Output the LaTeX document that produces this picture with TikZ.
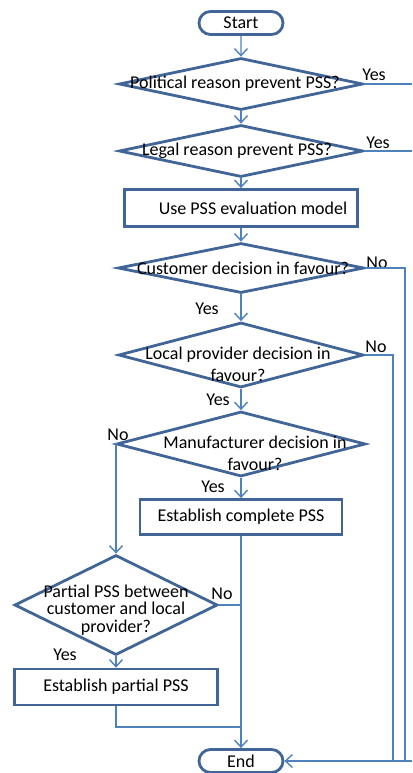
\documentclass[tikz,border=0pt]{standalone}
\usepackage{fontspec}
\setmainfont{Carlito}
\usetikzlibrary{shapes.geometric,shapes.misc,arrows.meta}
\definecolor{shapeblue}{RGB}{65,101,150}
\definecolor{lineblue}{RGB}{79,129,189}
\tikzset{
  terminal/.style={rounded rectangle,draw=shapeblue,line width=2.8pt,fill=white,minimum width=84pt,minimum height=23pt,inner sep=0pt},
  decision/.style 2 args={diamond,draw=shapeblue,line width=2.8pt,minimum width=#1,minimum height=#2,inner sep=0pt},
  process/.style 2 args={rectangle,draw=shapeblue,line width=2.8pt,minimum width=#1,minimum height=#2,inner sep=0pt},
  tag/.style={inner sep=0pt},
  wire/.style={draw=lineblue,line width=1.4pt},
  flow/.style={wire,-{Straight Barb[length=7pt,width=13pt,line width=1.4pt]}},
}
\begin{document}
\begin{tikzpicture}[x=1pt,y=-1pt,font=\fontsize{18}{22}\selectfont]
\useasboundingbox (0,0) rectangle (412,773);
\node[terminal] (start) at (241,23) {Start};
\node[decision={244pt}{52pt},label={[xshift=-6pt]center:Political reason prevent PSS?}] (political) at (241,84) {};
\node[decision={244pt}{52pt},label={[xshift=-4pt]center:Legal reason prevent PSS?}] (legal) at (241,151) {};
\node[process={233pt}{37pt}] (evaluate) at (241,208) {\hspace*{24pt}Use PSS evaluation model};
\node[decision={246pt}{50pt},label={[xshift=2pt]center:Customer decision in favour?}] (customer) at (241,268) {};
\node[decision={245pt}{65pt},label={[align=center,yshift=-9pt,xshift=-3pt]center:{Local provider decision in\\favour?}}] (provider) at (241,355) {};
\node[decision={249pt}{65pt},label={[align=center,yshift=-9pt,xshift=14pt]center:{Manufacturer decision in\\favour?}}] (manufacturer) at (241,444) {};
\node[process={202pt}{35pt}] (complete) at (241,517) {Establish complete PSS};
\node[decision={203pt}{100pt},label={[align=center,yshift=-5pt,font=\fontsize{18}{17.5}\selectfont]center:{Partial PSS between\\customer and local\\provider?}}] (partial) at (116,605) {};
\node[process={203pt}{36pt}] (establishpartial) at (116,687) {Establish partial PSS};
\node[terminal] (end) at (241,761) {End};
% answers
\node[tag] (yespolitical) at (374,75) {Yes};
\node[tag] (yeslegal) at (378,143) {Yes};
\node[tag] (nocustomer) at (377,263) {No};
\node[tag] (yescustomer) at (207,309) {Yes};
\node[tag] (noprovider) at (376,347) {No};
\node[tag] (yesprovider) at (218,400) {Yes};
\node[tag] (nomanufacturer) at (118,435) {No};
\node[tag] (yesmanufacturer) at (213,487) {Yes};
\node[tag] (nopartial) at (222,594) {No};
\node[tag] (yespartial) at (65,655) {Yes};
% off the right edge and joins
\coordinate (politicalexit) at (412,84);
\coordinate (legalexit) at (412,151);
\coordinate (customerdrop) at (405,761);
\coordinate (providerdrop) at (393,761);
\coordinate (rightexit) at (412,761);
\coordinate (merge) at (241,727);
\path[flow]
  (start) edge (political)
  (political) edge (legal)
  (legal) edge (evaluate)
  (evaluate) edge (customer)
  (customer) edge (provider)
  (provider) edge (manufacturer)
  (manufacturer) edge (complete)
  (complete) edge (end)
  (partial) edge (establishpartial)
;
\draw[wire] (political.east) -- (politicalexit);
\draw[wire] (legal.east) -- (legalexit);
\draw[wire] (customer.east) -| (customerdrop);
\draw[wire] (provider.east) -| (providerdrop);
\draw[flow] (rightexit) -- (end.east);
\draw[flow] (manufacturer.west) -| (partial.north);
\draw[wire] (partial.east) -- (partial.east -| complete.south);
\draw[wire] (establishpartial.south) |- (merge);
\end{tikzpicture}
\end{document}
